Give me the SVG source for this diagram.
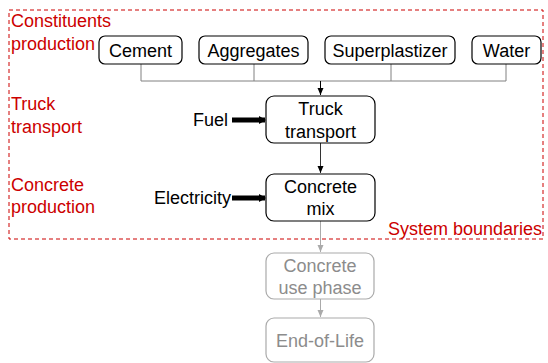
<svg xmlns="http://www.w3.org/2000/svg" width="548" height="363" viewBox="0 0 548 363">
<style>
text{font-family:"Liberation Sans",Arial,sans-serif;font-size:18px}
.node rect{fill:#fff;stroke:#000;stroke-width:1.2}
.node text{fill:#000;text-anchor:middle}
.ghost rect{fill:#fff;stroke:#aaa;stroke-width:1.2}
.ghost text{fill:#8c8c8c;text-anchor:middle}
.lbl{fill:#cc0000}
.in{fill:#000}
</style>
<defs>
<marker id="ab" markerWidth="8" markerHeight="8" refX="7" refY="4" orient="auto" markerUnits="userSpaceOnUse"><path d="M0,1 L7,4 L0,7Z" fill="#000"/></marker>
<marker id="ag" markerWidth="8" markerHeight="8" refX="7" refY="4" orient="auto" markerUnits="userSpaceOnUse"><path d="M0,1 L7,4 L0,7Z" fill="#aaa"/></marker>
<marker id="at" markerWidth="8" markerHeight="10" refX="6" refY="5" orient="auto" markerUnits="userSpaceOnUse"><path d="M0,1 L7,5 L0,9Z" fill="#000"/></marker>
</defs>
<rect x="9" y="10" width="534" height="229" fill="none" stroke="#cc0000" stroke-width="1" stroke-dasharray="4,3"/>
<g id="labels">
<text class="lbl" x="11" y="27">Constituents</text>
<text class="lbl" x="11" y="50">production</text>
<text class="lbl" x="11" y="110">Truck</text>
<text class="lbl" x="11" y="133">transport</text>
<text class="lbl" x="11" y="191">Concrete</text>
<text class="lbl" x="11" y="213">production</text>
<text class="lbl" x="542" y="235" text-anchor="end">System boundaries</text>
<text class="in" x="228" y="126" text-anchor="end">Fuel</text>
<text class="in" x="231" y="204" text-anchor="end">Electricity</text>
</g>
<g id="connectors" fill="none">
<path d="M141,64V81M254,64V81M391,64V81M506,64V81M141,81H506" stroke="#808080" stroke-width="1"/>
<path d="M320.5,81V95" stroke="#000" stroke-width="1" marker-end="url(#ab)"/>
<path d="M320.5,143V173" stroke="#333" stroke-width="1" marker-end="url(#ab)"/>
<path d="M320.5,221V252" stroke="#aaa" stroke-width="1" marker-end="url(#ag)"/>
<path d="M320.5,299V317" stroke="#aaa" stroke-width="1" marker-end="url(#ag)"/>
<path d="M232,120H265" stroke="#000" stroke-width="5" marker-end="url(#at)"/>
<path d="M232,198H265" stroke="#000" stroke-width="5" marker-end="url(#at)"/>
</g>
<g id="cement" class="node"><rect x="99" y="36" width="83" height="28" rx="6"/><text x="140.5" y="57">Cement</text></g>
<g id="aggregates" class="node"><rect x="199" y="36" width="109" height="28" rx="6"/><text x="253.5" y="57">Aggregates</text></g>
<g id="superplastizer" class="node"><rect x="325" y="36" width="130" height="28" rx="6"/><text x="390" y="57">Superplastizer</text></g>
<g id="water" class="node"><rect x="472" y="36" width="69" height="28" rx="6"/><text x="506.5" y="57">Water</text></g>
<g id="truck" class="node"><rect x="266" y="96" width="109" height="47" rx="8"/><text x="320.5" y="115">Truck</text><text x="320.5" y="138">transport</text></g>
<g id="mix" class="node"><rect x="266" y="174" width="109" height="47" rx="8"/><text x="320.5" y="193">Concrete</text><text x="320.5" y="215">mix</text></g>
<g id="use" class="ghost"><rect x="266" y="253" width="108" height="46" rx="8"/><text x="320" y="272">Concrete</text><text x="320" y="294">use phase</text></g>
<g id="eol" class="ghost"><rect x="266" y="318" width="108" height="44" rx="8"/><text x="320" y="347">End-of-Life</text></g>
</svg>
